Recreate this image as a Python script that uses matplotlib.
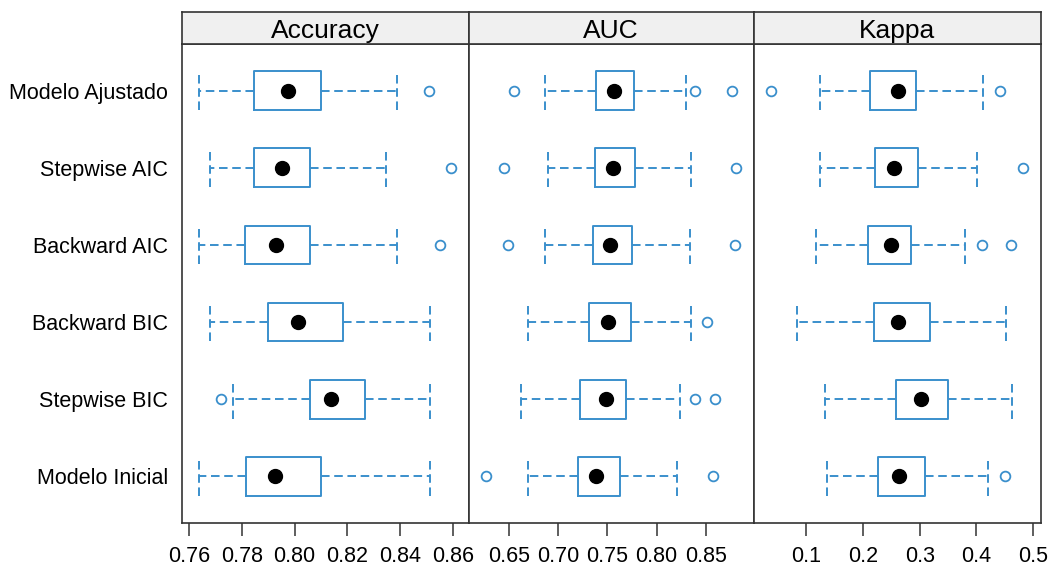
import matplotlib
matplotlib.use("Agg")
import matplotlib.pyplot as plt
import numpy as np

plt.rcParams['font.family'] = ['Liberation Sans', 'DejaVu Sans']

# resampling results, models listed bottom to top
models = ['Modelo Inicial', 'Stepwise BIC', 'Backward BIC',
          'Backward AIC', 'Stepwise AIC', 'Modelo Ajustado']
metrics = ['Accuracy', 'AUC', 'Kappa']

acc_lo = [0.7639, 0.7765, 0.7681, 0.7639, 0.7681, 0.7639]
acc_q1 = [0.7815, 0.8058, 0.7899, 0.7811, 0.7847, 0.7847]
acc_med = [0.7927, 0.8138, 0.8015, 0.7928, 0.7953, 0.7975]
acc_q3 = [0.8101, 0.8266, 0.8184, 0.8060, 0.8060, 0.8101]
acc_hi = [0.8513, 0.8513, 0.8513, 0.8389, 0.8348, 0.8389]
acc_out = [[], [0.7720], [], [0.8551], [0.8593], [0.8510]]

auc_lo = [0.6693, 0.6625, 0.6693, 0.6872, 0.6899, 0.6872]
auc_q1 = [0.7204, 0.7228, 0.7312, 0.7353, 0.7380, 0.7383]
auc_med = [0.7387, 0.7485, 0.7512, 0.7525, 0.7556, 0.7566]
auc_q3 = [0.7630, 0.7688, 0.7745, 0.7755, 0.7786, 0.7769]
auc_hi = [0.8212, 0.8236, 0.8348, 0.8338, 0.8348, 0.8294]
auc_out = [[0.6270, 0.8574], [0.8395, 0.8588], [0.8507], [0.6493, 0.8794],
           [0.6449, 0.8808], [0.6558, 0.8395, 0.8767]]

kap_lo = [0.1359, 0.1335, 0.0829, 0.1165, 0.1235, 0.1235]
kap_q1 = [0.2264, 0.2576, 0.2194, 0.2094, 0.2217, 0.2123]
kap_med = [0.2635, 0.3023, 0.2612, 0.2494, 0.2541, 0.2612]
kap_q3 = [0.3087, 0.3493, 0.3181, 0.2846, 0.2964, 0.2941]
kap_hi = [0.4211, 0.4622, 0.4522, 0.3799, 0.4017, 0.4117]
kap_out = [[0.4504], [], [], [0.4099, 0.4605], [0.4822], [0.0383, 0.4411]]

acc_ticks = [0.76, 0.78, 0.80, 0.82, 0.84, 0.86]
auc_ticks = [0.65, 0.70, 0.75, 0.80, 0.85]
kap_ticks = [0.1, 0.2, 0.3, 0.4, 0.5]
acc_labels = ['0.76', '0.78', '0.80', '0.82', '0.84', '0.86']
auc_labels = ['0.65', '0.70', '0.75', '0.80', '0.85']
kap_labels = ['0.1', '0.2', '0.3', '0.4', '0.5']

panels = [
    (acc_lo, acc_q1, acc_med, acc_q3, acc_hi, acc_out, acc_ticks, acc_labels),
    (auc_lo, auc_q1, auc_med, auc_q3, auc_hi, auc_out, auc_ticks, auc_labels),
    (kap_lo, kap_q1, kap_med, kap_q3, kap_hi, kap_out, kap_ticks, kap_labels),
]

BLUE = '#3a8fcc'
EDGE = '#333333'
W, H = 1052, 572

fig = plt.figure(figsize=(W / 100, H / 100), dpi=100)

left_px = [181.7, 468.5, 753.7]
right_px = 1040.7
bot = (H - 522.7) / H
top = (H - 44.3) / H
strip_top = (H - 12.3) / H

dash = (0, (4.4, 2.4))
ypos = np.arange(1, len(models) + 1)

for i, (lo, q1, med, q3, hi, out, ticks, labels) in enumerate(panels):
    x0 = left_px[i]
    x1 = left_px[i + 1] if i < 2 else right_px
    ax = fig.add_axes([x0 / W, bot, (x1 - x0) / W, top - bot])

    stats = []
    for j in range(len(models)):
        stats.append(dict(whislo=lo[j], q1=q1[j], med=med[j], q3=q3[j],
                          whishi=hi[j], fliers=out[j]))
    ax.bxp(stats, positions=ypos, widths=0.5, capwidths=0.5,
           orientation='horizontal', patch_artist=False,
           boxprops=dict(color=BLUE, linewidth=1.4),
           whiskerprops=dict(color=BLUE, linewidth=1.4, linestyle=dash),
           capprops=dict(color=BLUE, linewidth=1.4, linestyle=dash),
           medianprops=dict(visible=False),
           flierprops=dict(marker='o', markerfacecolor='white',
                           markeredgecolor=BLUE, markersize=7,
                           markeredgewidth=1.3))
    ax.plot(med, ypos, 'o', color='black', markersize=10, zorder=5)

    # pad the data range the way lattice does
    allv = lo + hi + [v for o in out for v in o]
    lo_all, hi_all = min(allv), max(allv)
    pad = 0.07 * (hi_all - lo_all)
    ax.set_xlim(lo_all - pad, hi_all + pad)
    ax.set_ylim(0.4, len(models) + 0.6)

    ax.set_xticks(ticks)
    ax.set_xticklabels(labels, fontsize=15.5)
    ax.tick_params(axis='x', length=9.5, width=1.1, color=EDGE, pad=7)
    if i == 0:
        ax.set_yticks(ypos)
        ax.set_yticklabels(models, fontsize=15.5)
        ax.tick_params(axis='y', length=0, pad=10)
    else:
        ax.set_yticks([])
    for s in ax.spines.values():
        s.set_color(EDGE)
        s.set_linewidth(1.2)

    # strip with the metric name
    sax = fig.add_axes([x0 / W, top, (x1 - x0) / W, strip_top - top])
    sax.set_facecolor('#f0f0f0')
    sax.set_xticks([])
    sax.set_yticks([])
    for s in sax.spines.values():
        s.set_color(EDGE)
        s.set_linewidth(1.2)
    sax.text(0.5, 0.42, metrics[i], ha='center', va='center',
             fontsize=19, transform=sax.transAxes)

fig.savefig('out.png', dpi=100)
